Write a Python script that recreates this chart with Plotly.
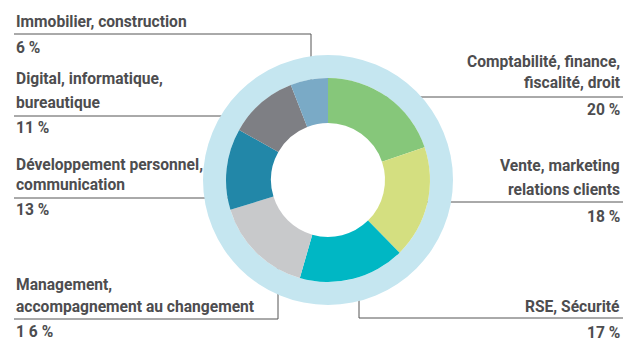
import plotly.graph_objects as go

# share of training hours by domain (clockwise from 12 o'clock)
categories = [
    "Comptabilité, finance, fiscalité, droit",
    "Vente, marketing relations clients",
    "RSE, Sécurité",
    "Management, accompagnement au changement",
    "Développement personnel, communication",
    "Digital, informatique, bureautique",
    "Immobilier, construction",
]
values = [20, 18, 17, 16, 13, 11, 6]
pct_labels = ["20 %", "18 %", "17 %", "1 6 %", "13 %", "11 %", "6 %"]
label_lines = [
    ["Comptabilité, finance,", "fiscalité, droit"],
    ["Vente, marketing", "relations clients"],
    ["RSE, Sécurité"],
    ["Management,", "accompagnement au changement"],
    ["Développement personnel,", "communication"],
    ["Digital, informatique,", "bureautique"],
    ["Immobilier, construction"],
]
colors = ["#86C77A", "#D4DF80", "#00B7C4", "#C8C9CB", "#2287A8", "#7E7F84", "#7AAAC6"]

W, H = 624, 341
cx, cy = 328, 180
r_pie, r_ring = 102, 125
TXT = "#4D4D4F"
FONT = "Roboto, sans-serif"


def dom(r):
    return dict(x=[(cx - r) / W, (cx + r) / W],
                y=[(H - cy - r) / H, (H - cy + r) / H])


fig = go.Figure()

# light blue outer ring
fig.add_trace(go.Pie(values=[1], marker=dict(colors=["#C5E6F0"], line=dict(width=0)),
                     hole=r_pie / r_ring, domain=dom(r_ring), textinfo="none",
                     hoverinfo="skip", showlegend=False, sort=False))

fig.add_trace(go.Pie(labels=categories, values=values, sort=False, direction="clockwise",
                     rotation=0, hole=57 / r_pie, domain=dom(r_pie),
                     marker=dict(colors=colors, line=dict(width=0)),
                     textinfo="none", showlegend=False))

# label layout: (anchor side, line y's, pct y, leader path)
left, right = 14, 622
label_pos = [
    ("right", [62, 83], 110, [(380, 97), (623, 97)]),
    ("right", [166, 190], 217, [(425, 202), (623, 202)]),
    ("right", [307], 333, [(359, 290), (359, 318), (623, 318)]),
    ("left", [285, 307], 332, [(left, 319), (278, 319), (278, 265)]),
    ("left", [165, 185], 210, [(left, 198), (233, 198)]),
    ("left", [79, 103], 128, [(left, 116), (255, 116)]),
    ("left", [22], 48, [(left, 34), (311, 34), (311, 80)]),
]

annotations = []
for lines, pct, (side, ys, py, path) in zip(label_lines, pct_labels, label_pos):
    x = right if side == "right" else left
    for txt, y in zip(lines + [pct], ys + [py]):
        annotations.append(dict(x=x, y=y, xref="x", yref="y", text="<b>" + txt + "</b>",
                                showarrow=False, xanchor=side, yanchor="middle",
                                font=dict(family=FONT, size=15.6, color=TXT)))
    fig.add_trace(go.Scatter(x=[p[0] for p in path], y=[p[1] for p in path], mode="lines",
                             line=dict(color="#555555", width=1), hoverinfo="skip",
                             showlegend=False))

fig.update_layout(
    width=W, height=H,
    margin=dict(l=0, r=0, t=0, b=0),
    paper_bgcolor="white", plot_bgcolor="rgba(0,0,0,0)",
    xaxis=dict(range=[0, W], visible=False, fixedrange=True),
    yaxis=dict(range=[H, 0], visible=False, fixedrange=True),
    annotations=annotations,
)

fig.write_html("out.html", config={"displayModeBar": False},
               post_script="document.body.style.margin='0';")
